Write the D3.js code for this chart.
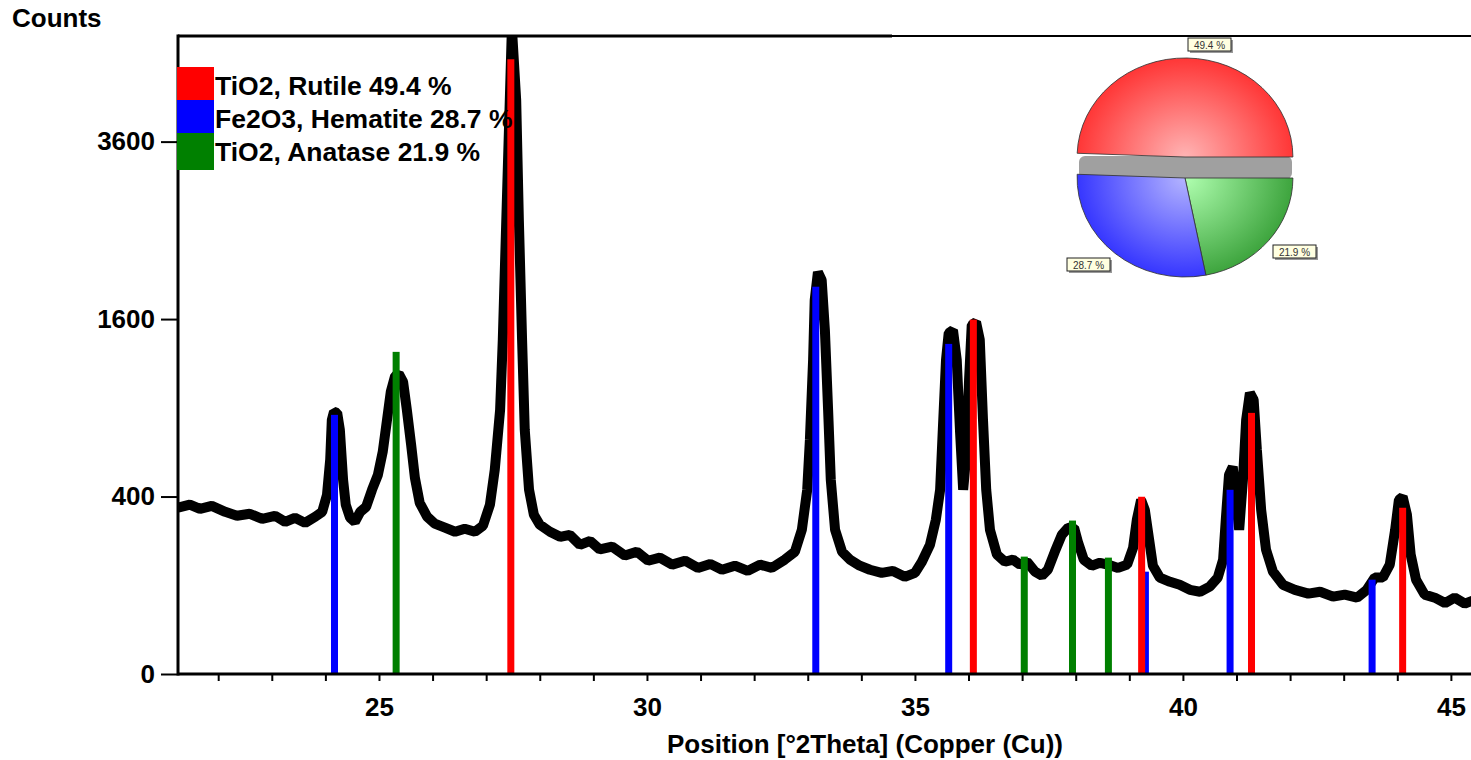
<!DOCTYPE html>
<html>
<head>
<meta charset="utf-8">
<script src="https://cdn.jsdelivr.net/npm/d3@7"></script>
<style>
  body { margin: 0; background: #fff; }
  text { font-family: Arial, "Liberation Sans", sans-serif; }
</style>
</head>
<body>
<script>
var scanAngle = [21.25, 21.47, 21.66, 21.88, 22.13, 22.35, 22.59, 22.82, 23.06, 23.25, 23.43, 23.62, 23.81, 23.94,
  24.03, 24.09, 24.12, 24.16, 24.22, 24.27, 24.33, 24.38, 24.46, 24.55, 24.65, 24.76, 24.87, 24.98,
  25.07, 25.15, 25.22, 25.30, 25.37, 25.45, 25.52, 25.60, 25.67, 25.76, 25.90, 26.04, 26.23, 26.42,
  26.60, 26.79, 26.94, 27.07, 27.16, 27.26, 27.31, 27.37, 27.43, 27.48, 27.56, 27.61, 27.67, 27.72,
  27.80, 27.89, 28.00, 28.19, 28.38, 28.56, 28.75, 28.94, 29.12, 29.35, 29.59, 29.81, 30.02, 30.24,
  30.47, 30.71, 30.95, 31.18, 31.40, 31.64, 31.88, 32.11, 32.33, 32.57, 32.76, 32.89, 32.99, 33.04,
  33.10, 33.13, 33.19, 33.26, 33.32, 33.38, 33.43, 33.51, 33.64, 33.79, 33.97, 34.16, 34.38, 34.59,
  34.81, 35.00, 35.13, 35.28, 35.39, 35.47, 35.52, 35.58, 35.63, 35.71, 35.78, 35.84, 35.90, 35.95,
  36.01, 36.06, 36.14, 36.21, 36.27, 36.33, 36.40, 36.53, 36.68, 36.83, 36.96, 37.09, 37.24, 37.37,
  37.48, 37.61, 37.74, 37.86, 37.97, 38.04, 38.15, 38.30, 38.45, 38.60, 38.79, 38.96, 39.07, 39.14,
  39.22, 39.29, 39.37, 39.44, 39.57, 39.76, 39.94, 40.13, 40.32, 40.50, 40.65, 40.75, 40.80, 40.86,
  40.93, 40.99, 41.05, 41.12, 41.18, 41.25, 41.32, 41.38, 41.46, 41.55, 41.68, 41.87, 42.09, 42.34,
  42.56, 42.80, 43.02, 43.25, 43.43, 43.58, 43.73, 43.86, 43.96, 44.03, 44.10, 44.18, 44.25, 44.35,
  44.51, 44.70, 44.89, 45.07, 45.26, 45.45]
var scanCounts = [351, 364, 346, 359, 334, 318, 326, 306, 318, 294, 310, 290, 314, 334,
  408, 585, 820, 873, 866, 757, 479, 364, 310, 294, 334, 355, 431, 504,
  627, 820, 1011, 1128, 1144, 1084, 886, 667, 489, 372, 314, 287, 272, 257,
  268, 257, 279, 364, 529, 886, 1418, 2503, 3896, 5300, 4182, 2617, 1418, 757,
  431, 322, 283, 257, 239, 246, 212, 225, 197, 206, 178, 190, 163, 172,
  152, 163, 143, 154, 138, 149, 135, 152, 143, 166, 190, 264, 431, 696,
  1253, 1777, 2052, 1971, 1503, 886, 479, 264, 190, 166, 149, 138, 130, 135,
  120, 130, 160, 212, 302, 431, 757, 1253, 1477, 1503, 1253, 757, 431, 582,
  1098, 1547, 1574, 1418, 820, 431, 264, 181, 160, 166, 152, 160, 133, 123,
  138, 190, 246, 272, 272, 222, 166, 149, 157, 152, 143, 152, 202, 302,
  385, 342, 229, 149, 118, 108, 101, 90, 86, 97, 118, 166, 302, 504,
  545, 385, 264, 479, 820, 1004, 954, 638, 342, 197, 133, 101, 90, 82,
  86, 76, 80, 74, 90, 118, 118, 152, 264, 385, 399, 322, 181, 113,
  80, 74, 64, 74, 63, 70]

// reference patterns
var rutileAngle = [27.46, 36.09, 39.23, 41.28, 44.10]
var rutileCounts = [4800, 1595, 399, 866, 351]
var hematiteAngle = [24.17, 33.15, 35.63, 39.30, 40.88, 43.53]
var hematiteCounts = [853, 1905, 1384, 133, 431, 113]
var anataseAngle = [25.32, 37.04, 37.94, 38.61]
var anataseCounts = [1318, 175, 299, 172]

var phaseNames = ['TiO2, Rutile', 'Fe2O3, Hematite', 'TiO2, Anatase']
var phasePercent = [49.4, 28.7, 21.9]
var phaseColors = ['#ff0000', '#0000ff', '#008000']

var yTicks = [0, 400, 1600, 3600]
var xTicks = d3.range(22, 46)
var yMax = 5170

var W = 1471, H = 760
var plotLeft = 178, plotTop = 36, plotBottom = 674

var x = d3.scaleLinear().domain([21.25, 45.45]).range([plotLeft, 1475])
var y = d3.scaleSqrt().domain([0, yMax]).range([plotBottom, plotTop])

var svg = d3.select('body').append('svg')
  .attr('width', W)
  .attr('height', H)

svg.append('clipPath').attr('id', 'plot')
  .append('rect').attr('x', plotLeft).attr('y', plotTop)
  .attr('width', W - plotLeft).attr('height', plotBottom - plotTop)

// observed scan
var scan = scanAngle.map((a, i) => [a, scanCounts[i]])
svg.append('path')
  .datum(scan)
  .attr('clip-path', 'url(#plot)')
  .attr('fill', 'none')
  .attr('stroke', '#000')
  .attr('stroke-width', 10)
  .attr('stroke-linejoin', 'bevel')
  .attr('d', d3.line().x(d => x(d[0])).y(d => y(d[1])))

// stick patterns
var sticks = [
  {angle: anataseAngle, counts: anataseCounts, color: phaseColors[2]},
  {angle: hematiteAngle, counts: hematiteCounts, color: phaseColors[1]},
  {angle: rutileAngle, counts: rutileCounts, color: phaseColors[0]}
]
sticks.forEach(function (s) {
  svg.append('g').selectAll('rect')
    .data(s.angle.map((a, i) => [a, s.counts[i]]))
    .enter().append('rect')
    .attr('x', d => x(d[0]) - 3.5)
    .attr('width', 7)
    .attr('y', d => y(d[1]))
    .attr('height', d => y(0) - y(d[1]))
    .attr('fill', s.color)
})

// axes
var xAxis = svg.append('g')
  .attr('transform', `translate(0, ${plotBottom})`)
  .call(d3.axisBottom(x).tickValues(xTicks).tickSize(7).tickSizeOuter(0).tickPadding(17)
    .tickFormat(d => d % 5 === 0 ? d : ''))
xAxis.select('.domain').remove()
xAxis.selectAll('line').attr('stroke-width', 2)
xAxis.selectAll('text').attr('font-size', 26).attr('font-weight', 'bold').attr('fill', '#000')

var yAxis = svg.append('g')
  .attr('transform', `translate(${plotLeft}, 0)`)
  .call(d3.axisLeft(y).tickValues(yTicks).tickSize(17).tickSizeOuter(0).tickPadding(6)
    .tickFormat(d3.format('d')))
yAxis.select('.domain').remove()
yAxis.selectAll('line').attr('stroke-width', 2)
yAxis.selectAll('text').attr('font-size', 26).attr('font-weight', 'bold').attr('fill', '#000')

// frame
svg.append('line').attr('x1', plotLeft).attr('x2', plotLeft).attr('y1', plotTop - 1.5).attr('y2', plotBottom + 1.5)
  .attr('stroke', '#000').attr('stroke-width', 3)
svg.append('line').attr('x1', plotLeft).attr('x2', W).attr('y1', plotBottom).attr('y2', plotBottom)
  .attr('stroke', '#000').attr('stroke-width', 3)
svg.append('line').attr('x1', plotLeft).attr('x2', 892).attr('y1', plotTop).attr('y2', plotTop)
  .attr('stroke', '#000').attr('stroke-width', 3)
svg.append('line').attr('x1', 892).attr('x2', W).attr('y1', plotTop).attr('y2', plotTop)
  .attr('stroke', '#000').attr('stroke-width', 2)

svg.append('text').attr('x', 12).attr('y', 27)
  .attr('font-size', 26).attr('font-weight', 'bold').text('Counts')

svg.append('text').attr('x', 865).attr('y', 753).attr('text-anchor', 'middle')
  .attr('font-size', 26).attr('font-weight', 'bold').text('Position [°2Theta] (Copper (Cu))')

// legend
var legend = svg.append('g').selectAll('g')
  .data(phaseNames)
  .enter().append('g')
  .attr('transform', (d, i) => `translate(177, ${67 + i * 33})`)
legend.append('rect').attr('width', 37).attr('height', (d, i) => i === 2 ? 37 : 33)
  .attr('fill', (d, i) => phaseColors[i])
legend.append('text').attr('x', 38).attr('y', 28)
  .attr('font-size', 26.5).attr('font-weight', 'bold')
  .text((d, i) => `${d} ${phasePercent[i]} %`)

// pie
var cx = 1185, cy = 178, r = 99
var defs = svg.append('defs')
var grads = [['#ffb4b4', '#ff3030'], ['#b4b4ff', '#3030ff'], ['#b0ffb0', '#38a038']]
grads.forEach(function (g, i) {
  var rg = defs.append('radialGradient').attr('id', 'pg' + i)
    .attr('gradientUnits', 'userSpaceOnUse')
    .attr('cx', 0).attr('cy', 0).attr('r', r * 1.05)
  rg.append('stop').attr('offset', 0).attr('stop-color', g[0])
  rg.append('stop').attr('offset', 1).attr('stop-color', g[1])
})

var pieG = svg.append('g')
svg.insert('rect', () => pieG.node())
  .attr('x', 1079).attr('y', 156).attr('width', 213).attr('height', 23).attr('rx', 6)
  .attr('fill', '#a0a0a0')

var pie = d3.pie().sort(null).startAngle(Math.PI / 2).endAngle(Math.PI / 2 + 2 * Math.PI)
var slices = pie([phasePercent[2], phasePercent[1], phasePercent[0]])
var sliceColor = [2, 1, 0]
var arc = d3.arc().innerRadius(0).outerRadius(r)
pieG.selectAll('path')
  .data(slices)
  .enter().append('path')
  .attr('transform', (d, i) => `translate(${cx}, ${cy + (sliceColor[i] === 0 ? -21 : 0)}) scale(1.09, 1)`)
  .attr('d', arc)
  .attr('fill', (d, i) => `url(#pg${sliceColor[i]})`)
  .attr('stroke', '#333')
  .attr('stroke-width', 0.8)

var pieLabels = [
  {text: phasePercent[0] + ' %', x: 1188, y: 38},
  {text: phasePercent[1] + ' %', x: 1067, y: 258},
  {text: phasePercent[2] + ' %', x: 1273, y: 245}
]
var lab = svg.append('g').selectAll('g')
  .data(pieLabels)
  .enter().append('g')
  .attr('transform', d => `translate(${d.x}, ${d.y})`)
lab.append('rect').attr('x', 2).attr('y', 2).attr('width', 43).attr('height', 13).attr('fill', '#999')
lab.append('rect').attr('width', 43).attr('height', 13).attr('fill', '#ffffe1')
  .attr('stroke', '#222').attr('stroke-width', 1)
lab.append('text').attr('x', 21.5).attr('y', 10.5).attr('text-anchor', 'middle')
  .attr('font-size', 10).attr('fill', '#333').text(d => d.text)
</script>
</body>
</html>
